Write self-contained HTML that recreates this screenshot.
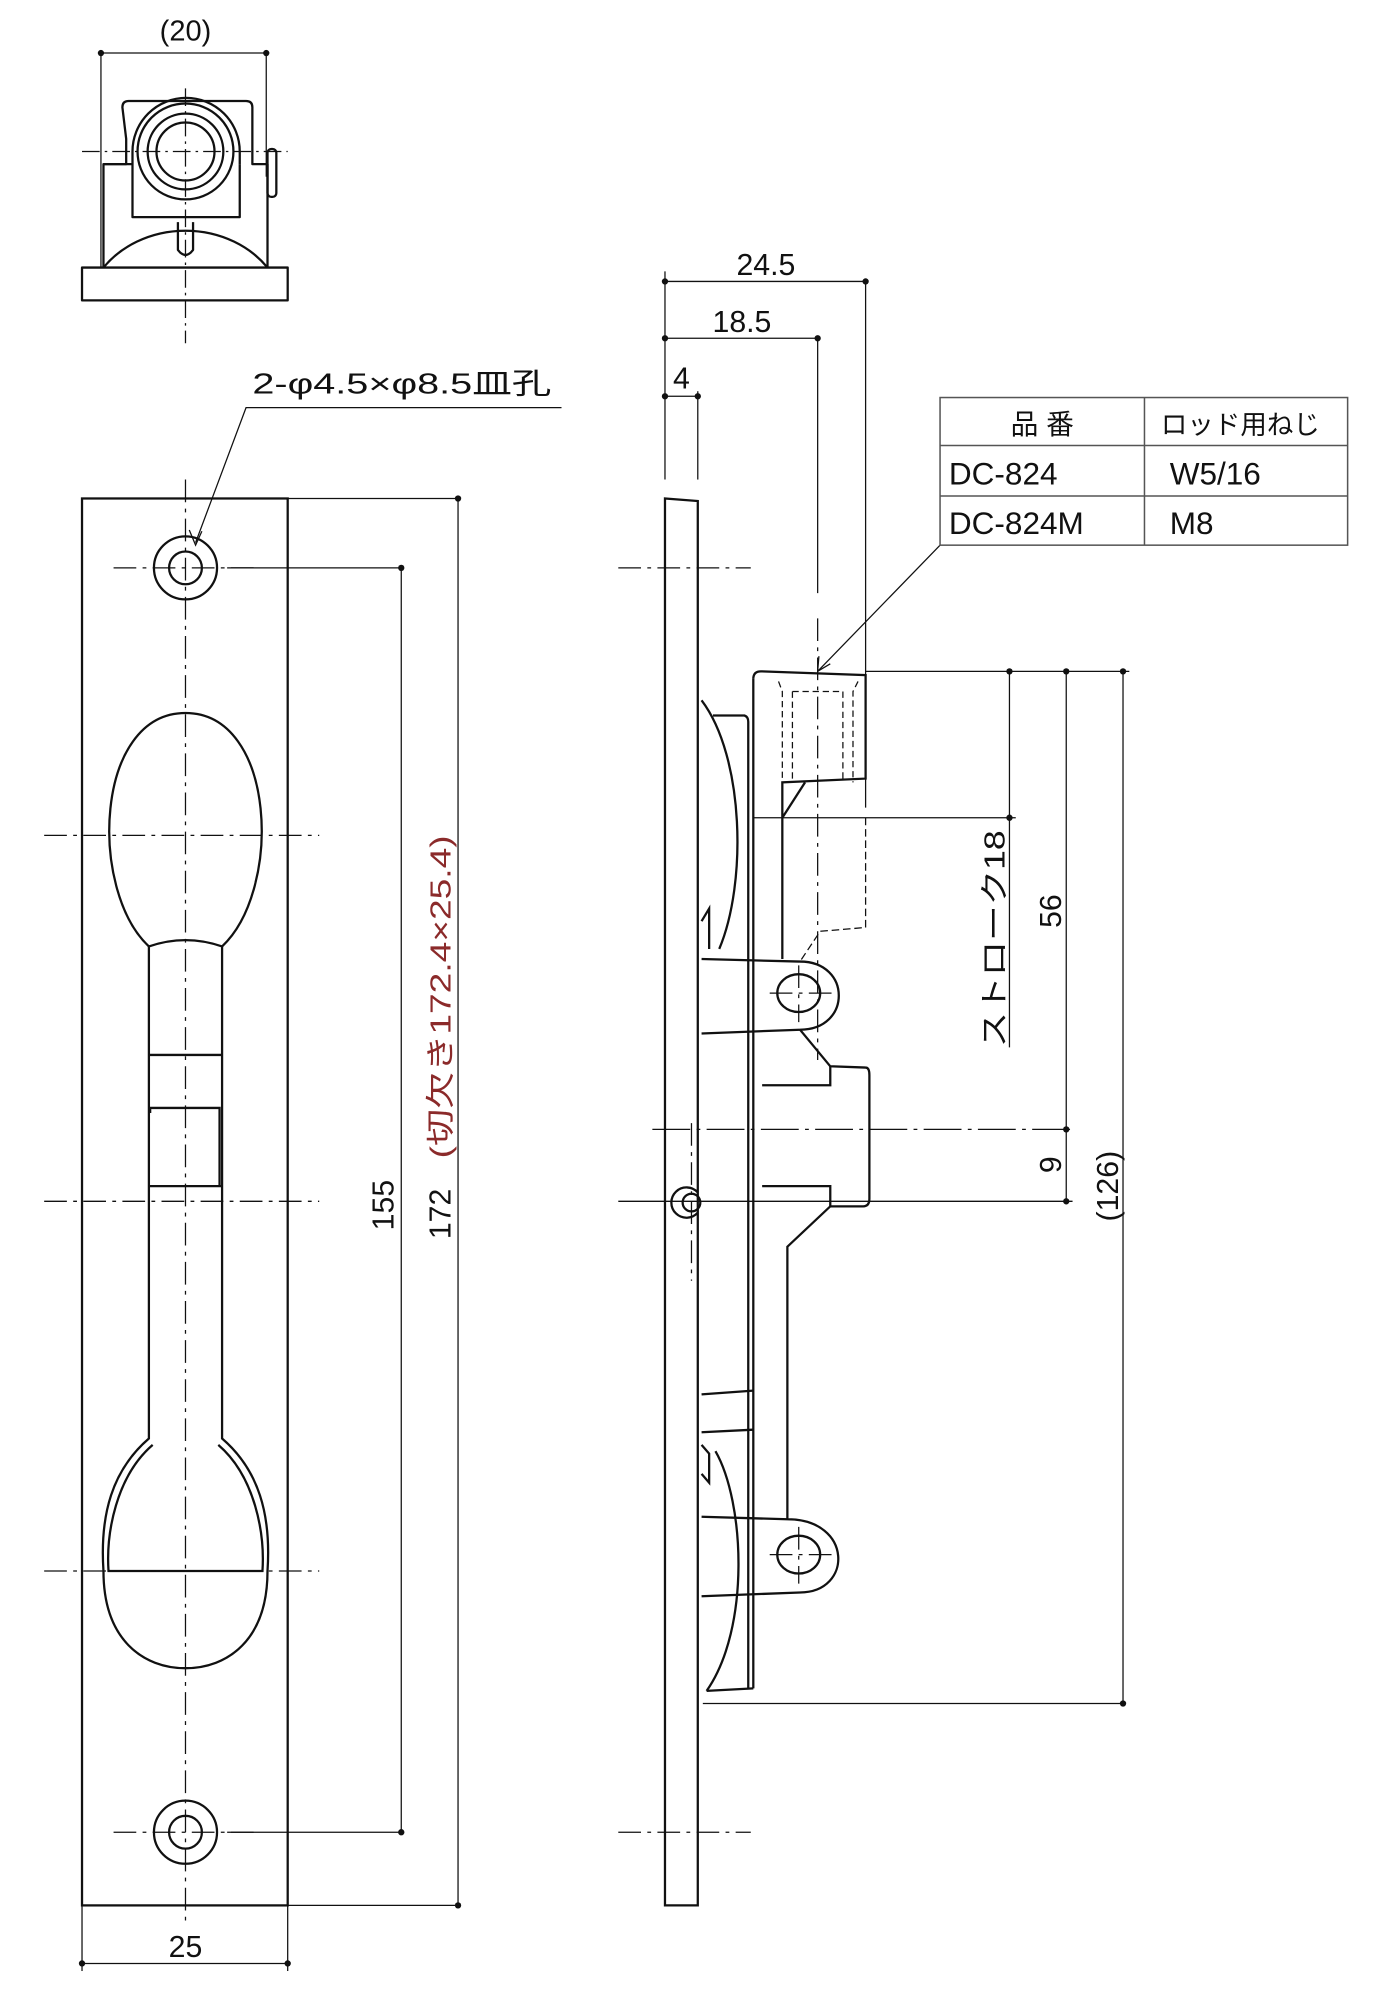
<!DOCTYPE html>
<html><head><meta charset="utf-8"><style>
html,body{margin:0;padding:0;background:#fff}
svg{display:block}
text{font-family:"Liberation Sans","Noto Sans CJK JP",sans-serif;fill:#111}
</style></head><body>
<svg width="1388" height="1990" viewBox="0 0 1100 1577" xmlns="http://www.w3.org/2000/svg">
<defs>
<marker id="dot" markerWidth="6" markerHeight="6" refX="3" refY="3" markerUnits="userSpaceOnUse"><circle cx="3" cy="3" r="2.5" fill="#111"/></marker>
</defs>
<g fill="none" stroke="#111" stroke-width="1.8" stroke-linejoin="round">
<rect x="65" y="212" width="163" height="26"/>
<path d="M82,212 A80,70 0 0 1 212,212"/>
<path d="M82,212 L82,130 L100,130 L100,110 L97,85 Q97,80 102,80 L195,80 Q200,80 200,85 L200,130 L212,130 L212,212"/>
<path d="M82,130 L105,130 L105,172 L190,172 L190,130"/>
<path d="M105,130 L105,120 A42,42 0 0 1 190,120 L190,130"/>
<circle cx="147" cy="120" r="38"/><circle cx="147" cy="120" r="30"/><circle cx="147" cy="120" r="23"/>
<rect x="212" y="118" width="7" height="38" rx="3"/>
<path d="M141,176 L141,198 Q147,206 153,198 L153,176"/>
</g>
<g stroke="#111" stroke-width="1" fill="none">
<line x1="147" y1="70" x2="147" y2="272" stroke-dasharray="14,4,2,4"/>
<line x1="65" y1="120" x2="228" y2="120" stroke-dasharray="14,4,2,4"/>
<line x1="80" y1="42" x2="211" y2="42" marker-start="url(#dot)" marker-end="url(#dot)"/>
<line x1="80" y1="40" x2="80" y2="212"/><line x1="211" y1="40" x2="211" y2="140"/>
</g>
<text x="147" y="32" font-size="23" text-anchor="middle">(20)</text>

<g fill="none" stroke="#111" stroke-width="1.8">
<rect x="65" y="395" width="163" height="1115"/>
<circle cx="147" cy="450" r="25"/><circle cx="147" cy="450" r="13"/>
<circle cx="147" cy="1452" r="25"/><circle cx="147" cy="1452" r="13"/>
<path d="M118,750 C70,705 75,565 147,565 C219,565 224,705 176,750"/>
<path d="M118,750 Q147,740 176,750 L176,1140 C205,1165 215,1200 212,1245 C212,1300 180,1322 147,1322 C114,1322 82,1300 82,1245 C79,1200 89,1165 118,1140 Z"/>
<path d="M121,1145 C92,1170 84,1215 86,1245 L208,1245 C210,1215 202,1170 173,1145"/>
<line x1="118" y1="836" x2="176" y2="836"/>
<path d="M119,882 L119,878 L174,878 L174,940"/><line x1="118" y1="940" x2="176" y2="940"/>
</g>
<g stroke="#111" stroke-width="1" fill="none" stroke-dasharray="18,5,3,5">
<line x1="147" y1="380" x2="147" y2="1525"/>
<line x1="90" y1="450" x2="205" y2="450"/><line x1="90" y1="1452" x2="205" y2="1452"/>
<line x1="35" y1="662" x2="253" y2="662"/><line x1="35" y1="952" x2="253" y2="952"/><line x1="35" y1="1245" x2="253" y2="1245"/>
</g>
<g stroke="#111" stroke-width="1" fill="none">
<line x1="228" y1="395" x2="363" y2="395"/><line x1="228" y1="1510" x2="363" y2="1510"/>
<line x1="180" y1="450" x2="318" y2="450"/><line x1="180" y1="1452" x2="318" y2="1452"/>
<line x1="318" y1="450" x2="318" y2="1452" marker-start="url(#dot)" marker-end="url(#dot)"/>
<line x1="363" y1="395" x2="363" y2="1510" marker-start="url(#dot)" marker-end="url(#dot)"/>
<line x1="65" y1="1510" x2="65" y2="1562"/><line x1="228" y1="1510" x2="228" y2="1562"/>
<line x1="65" y1="1556" x2="228" y2="1556" marker-start="url(#dot)" marker-end="url(#dot)"/>
<polyline points="445,323 195,323 155,430"/>
<path d="M150,420 L155,432 L160,421"/>
</g>
<text x="200" y="312" font-size="23" textLength="237" lengthAdjust="spacingAndGlyphs">2-φ4.5×φ8.5皿孔</text>
<text x="147" y="1551" font-size="24" text-anchor="middle">25</text>
<text transform="translate(312,955) rotate(-90)" font-size="24" text-anchor="middle">155</text>
<text transform="translate(357,982) rotate(-90)" font-size="24">172</text>
<text transform="translate(357,918) rotate(-90)" font-size="23" textLength="256" lengthAdjust="spacingAndGlyphs" style="fill:#8b2a2a">(切欠き172.4×25.4)</text>

<g fill="none" stroke="#111" stroke-width="1.8">
<path d="M527,1510 L527,395 L553,397 L553,1510 Z"/>
<path d="M597,538 Q597,532 603,532 L686,535 L686,617 L620,620 L620,760"/>
<path d="M597,538 L597,1338"/>
<path d="M556,555 C590,600 592,700 570,752"/>
<path d="M565,567 L590,567 Q593,568 593,572 L593,1338"/>
<path d="M620,648 L638,620"/>
<path d="M556,730 L562,720 L562,752"/>
<path d="M556,760 L634,762"/><path d="M556,819 L634,816"/>
<path d="M634,762 C675,762 675,816 634,816"/>
<ellipse cx="633" cy="787" rx="17" ry="15"/>
<path d="M634,816 L658,845 L686,846 Q689,846 689,852 L689,950 Q689,956 684,956 L658,956 L624,988 L624,1204"/>
<path d="M604,860 L658,860 L658,845"/><path d="M604,940 L658,940 L658,956"/>
<path d="M556,1202 L624,1204 C676,1204 676,1262 634,1262 L556,1265"/>
<ellipse cx="633" cy="1232" rx="17" ry="15"/>
<path d="M556,1105 L597,1102"/><path d="M556,1135 L597,1133"/>
<path d="M556,1145 L562,1152 L562,1175 L556,1168"/>
<path d="M567,1150 C590,1190 595,1290 560,1340"/>
<path d="M560,1340 L597,1338"/>
<path d="M553,945 A12,12 0 1 0 553,961"/>
<circle cx="548" cy="953" r="7"/>
</g>
<g stroke="#111" stroke-width="1" fill="none">
<path d="M617,540 L620,548 L620,620 M680,540 L676,548 L676,620 M628,548 L668,548 M628,548 L628,620 M668,548 L668,620" stroke-dasharray="5,3"/>
<path d="M686,648 L686,735 L650,738 L634,762" stroke-dasharray="6,3"/>
<line x1="648" y1="268" x2="648" y2="470"/>
<line x1="648" y1="490" x2="648" y2="840" stroke-dasharray="18,5,3,5"/>
<line x1="686" y1="223" x2="686" y2="640"/>
<line x1="527" y1="215" x2="527" y2="380"/><line x1="553" y1="310" x2="553" y2="380"/>
<line x1="527" y1="223" x2="686" y2="223" marker-start="url(#dot)" marker-end="url(#dot)"/>
<line x1="527" y1="268" x2="648" y2="268" marker-start="url(#dot)" marker-end="url(#dot)"/>
<line x1="527" y1="314" x2="553" y2="314" marker-start="url(#dot)" marker-end="url(#dot)"/>
<polyline points="745,432 648,532"/><path d="M649,520 L648,532 L658,526"/>
<line x1="686" y1="532" x2="895" y2="532"/>
<line x1="597" y1="648" x2="805" y2="648"/>
<line x1="517" y1="895" x2="850" y2="895" stroke-dasharray="30,5,3,5"/>
<line x1="490" y1="952" x2="850" y2="952"/>
<line x1="557" y1="1350" x2="890" y2="1350"/>
<line x1="800" y1="532" x2="800" y2="648" marker-start="url(#dot)" marker-end="url(#dot)"/>
<line x1="800" y1="648" x2="800" y2="830"/>
<line x1="845" y1="532" x2="845" y2="895" marker-start="url(#dot)" marker-end="url(#dot)"/>
<line x1="845" y1="895" x2="845" y2="952" marker-end="url(#dot)"/>
<line x1="890" y1="532" x2="890" y2="1350" marker-start="url(#dot)" marker-end="url(#dot)"/>
<g stroke-dasharray="18,5,3,5">
<line x1="490" y1="450" x2="595" y2="450"/><line x1="490" y1="1452" x2="595" y2="1452"/>
<line x1="548" y1="890" x2="548" y2="1015"/>
<line x1="610" y1="787" x2="660" y2="787"/><line x1="633" y1="765" x2="633" y2="810"/>
<line x1="610" y1="1232" x2="660" y2="1232"/><line x1="633" y1="1210" x2="633" y2="1255"/>
</g>
</g>
<text x="607" y="218" font-size="24" text-anchor="middle">24.5</text>
<text x="588" y="263" font-size="24" text-anchor="middle">18.5</text>
<text x="540" y="308" font-size="24" text-anchor="middle">4</text>
<text transform="translate(796,830) rotate(-90)" font-size="23" textLength="172" lengthAdjust="spacingAndGlyphs">ストローク18</text>
<text transform="translate(841,722) rotate(-90)" font-size="24" text-anchor="middle">56</text>
<text transform="translate(841,923) rotate(-90)" font-size="24" text-anchor="middle">9</text>
<text transform="translate(886,940) rotate(-90)" font-size="24" text-anchor="middle">(126)</text>

<g fill="none" stroke="#555" stroke-width="1.2">
<rect x="745" y="315" width="323" height="117"/>
<line x1="745" y1="353" x2="1068" y2="353"/><line x1="745" y1="393" x2="1068" y2="393"/>
<line x1="907" y1="315" x2="907" y2="432"/>
</g>
<text x="826" y="344" font-size="22" text-anchor="middle">品 番</text>
<text x="983" y="344" font-size="21" text-anchor="middle">ロッド用ねじ</text>
<text x="752" y="384" font-size="25">DC-824</text>
<text x="927" y="384" font-size="25">W5/16</text>
<text x="752" y="423" font-size="25">DC-824M</text>
<text x="927" y="423" font-size="25">M8</text>
</svg>
</body></html>
